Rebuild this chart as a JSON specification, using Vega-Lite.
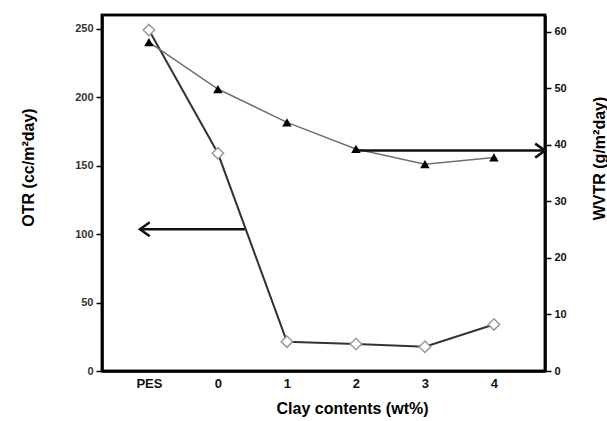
{
  "$schema": "https://vega.github.io/schema/vega-lite/v6.json",
  "width": 443,
  "height": 356,
  "autosize": "none",
  "padding": {"left": 102, "top": 15, "right": 62, "bottom": 50},
  "background": "#ffffff",
  "config": {
    "font": "Liberation Sans",
    "view": {"stroke": "#000000", "strokeWidth": 2.5},
    "axis": {"grid": false, "domainColor": "#000000", "domainWidth": 2.5, "tickColor": "#000000", "tickWidth": 1.5, "labelFont": "Liberation Sans", "titleFont": "Liberation Sans", "labelFontWeight": "bold", "titleFontWeight": "bold", "labelColor": "#333333", "titleColor": "#000000"}
  },
  "datasets": {
    "main": [
      {"clay": "PES", "idx": -1, "otr": 249, "wvtr": 58.2},
      {"clay": "0", "idx": 0, "otr": 159, "wvtr": 49.9},
      {"clay": "1", "idx": 1, "otr": 21.4, "wvtr": 44.0},
      {"clay": "2", "idx": 2, "otr": 19.7, "wvtr": 39.3},
      {"clay": "3", "idx": 3, "otr": 17.7, "wvtr": 36.6},
      {"clay": "4", "idx": 4, "otr": 34, "wvtr": 37.8}
    ],
    "otrArrow": [{"idx": 0.39, "idx2": -1.13, "otr": 103.5}],
    "wvtrArrow": [{"idx": 2.01, "idx2": 4.74, "wvtr": 39.0}],
    "plotBox": [{"idx": -1.68, "idx2": 4.74, "otr": 0, "otr2": 260}]
  },
  "layer": [
    {
      "layer": [
        {
          "data": {"name": "plotBox"},
          "mark": {"type": "rect", "fill": null, "fillOpacity": 0, "stroke": "#000000", "strokeWidth": 2.5, "clip": false},
          "encoding": {
            "x": {"field": "idx", "type": "quantitative", "scale": {"domain": [-1.68, 4.74], "nice": false, "zero": false}},
            "x2": {"field": "idx2"},
            "y": {"field": "otr", "type": "quantitative", "scale": {"domain": [0, 260], "nice": false}},
            "y2": {"field": "otr2"}
          }
        },
        {
          "data": {"name": "main"},
          "mark": {"type": "line", "color": "#333333", "strokeWidth": 2},
          "encoding": {
            "x": {"field": "idx", "type": "quantitative", "scale": {"domain": [-1.68, 4.74], "nice": false, "zero": false},
              "axis": {"values": [-1, 0, 1, 2, 3, 4], "labelExpr": "datum.value == -1 ? 'PES' : format(datum.value, 'd')", "ticks": false, "labelFontSize": 13, "labelColor": "#111111", "labelPadding": 6, "title": "Clay contents (wt%)", "titleFontSize": 16, "titlePadding": 10, "titleX": 250}},
            "y": {"field": "otr", "type": "quantitative", "scale": {"domain": [0, 260], "nice": false},
              "axis": {"orient": "left", "values": [0, 25, 50, 75, 100, 125, 150, 175, 200, 225, 250], "labelExpr": "datum.value % 50 === 0 ? datum.label : ''", "tickSize": {"condition": {"test": "datum.value % 50 === 0", "value": 6}, "value": 3}, "labelFontSize": 11, "labelPadding": 3, "title": "OTR (cc/m²day)", "titleFontSize": 16, "titlePadding": 38, "titleY": 152}}
          }
        },
        {
          "data": {"name": "otrArrow"},
          "mark": {"type": "rule", "color": "#111111", "strokeWidth": 2.5},
          "encoding": {
            "x": {"field": "idx", "type": "quantitative", "scale": {"domain": [-1.68, 4.74], "nice": false, "zero": false}},
            "x2": {"field": "idx2"},
            "y": {"field": "otr", "type": "quantitative", "scale": {"domain": [0, 260], "nice": false}}
          }
        },
        {
          "data": {"name": "otrArrow"},
          "mark": {"type": "point", "shape": "M1.4,-1L0,0L1.4,1", "filled": false, "size": 196, "color": "#111111", "strokeWidth": 2.5, "opacity": 1},
          "encoding": {
            "x": {"field": "idx2", "type": "quantitative", "scale": {"domain": [-1.68, 4.74], "nice": false, "zero": false}},
            "y": {"field": "otr", "type": "quantitative", "scale": {"domain": [0, 260], "nice": false}}
          }
        },
        {
          "data": {"name": "main"},
          "mark": {"type": "point", "shape": "diamond", "filled": true, "fill": "#ffffff", "stroke": "#999999", "strokeWidth": 1.5, "size": 130, "opacity": 1},
          "encoding": {
            "x": {"field": "idx", "type": "quantitative", "scale": {"domain": [-1.68, 4.74], "nice": false, "zero": false}},
            "y": {"field": "otr", "type": "quantitative", "scale": {"domain": [0, 260], "nice": false}}
          }
        }
      ]
    },
    {
      "layer": [
        {
          "data": {"name": "main"},
          "mark": {"type": "line", "color": "#707070", "strokeWidth": 1.5},
          "encoding": {
            "x": {"field": "idx", "type": "quantitative", "scale": {"domain": [-1.68, 4.74], "nice": false, "zero": false}},
            "y": {"field": "wvtr", "type": "quantitative", "scale": {"domain": [0, 63], "nice": false},
              "axis": {"orient": "right", "values": [0, 5, 10, 15, 20, 25, 30, 35, 40, 45, 50, 55, 60], "labelExpr": "datum.value % 10 === 0 ? datum.label : ''", "tickSize": {"condition": {"test": "datum.value % 10 === 0", "value": 6}, "value": 3}, "labelFontSize": 11, "labelColor": "#111111", "labelPadding": 3, "title": "WVTR (g/m²day)", "titleFontSize": 16, "titleAngle": -90, "titlePadding": 41, "titleY": 143}}
          }
        },
        {
          "data": {"name": "wvtrArrow"},
          "mark": {"type": "rule", "color": "#111111", "strokeWidth": 2.5},
          "encoding": {
            "x": {"field": "idx", "type": "quantitative", "scale": {"domain": [-1.68, 4.74], "nice": false, "zero": false}},
            "x2": {"field": "idx2"},
            "y": {"field": "wvtr", "type": "quantitative", "scale": {"domain": [0, 63], "nice": false}}
          }
        },
        {
          "data": {"name": "wvtrArrow"},
          "mark": {"type": "point", "shape": "M-1.4,-1L0,0L-1.4,1", "filled": false, "size": 196, "color": "#111111", "strokeWidth": 2.5, "opacity": 1},
          "encoding": {
            "x": {"field": "idx2", "type": "quantitative", "scale": {"domain": [-1.68, 4.74], "nice": false, "zero": false}},
            "y": {"field": "wvtr", "type": "quantitative", "scale": {"domain": [0, 63], "nice": false}}
          }
        },
        {
          "data": {"name": "main"},
          "mark": {"type": "point", "shape": "triangle-up", "filled": true, "color": "#000000", "size": 90, "opacity": 1},
          "encoding": {
            "x": {"field": "idx", "type": "quantitative", "scale": {"domain": [-1.68, 4.74], "nice": false, "zero": false}},
            "y": {"field": "wvtr", "type": "quantitative", "scale": {"domain": [0, 63], "nice": false}}
          }
        }
      ]
    }
  ],
  "resolve": {"scale": {"y": "independent"}}
}
